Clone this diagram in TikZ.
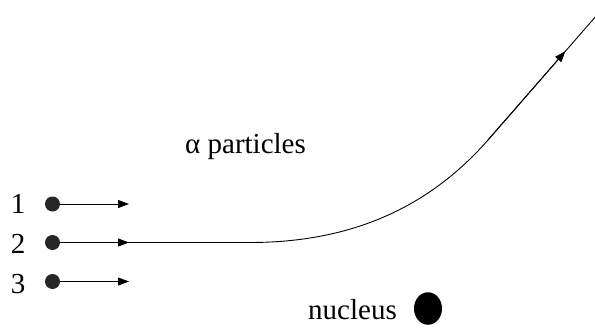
\documentclass[tikz,border=0pt]{standalone}
\usepackage{fontspec}
\setmainfont{Liberation Serif}
\usetikzlibrary{arrows.meta,calc,shapes.geometric}
\begin{document}
\begin{tikzpicture}[x=1pt,y=-1pt,
  lbl/.style={font=\fontsize{29}{34}\selectfont, inner sep=0pt, anchor=base},
  smalldot/.style={circle, fill=black!85, minimum size=15pt, inner sep=0pt},
  arr/.style={line width=0.9pt, -{Triangle[length=11pt,width=8pt]}},
  traj/.style={line width=0.9pt}]
\useasboundingbox (0,0) rectangle (595,327);
% labels
\node[lbl] (n1) at (18,213) {1};
\node[lbl] (n2) at (18,253) {2};
\node[lbl] (n3) at (18,293) {3};
\node[lbl, anchor=base west] (alpha) at (185,153) {α particles};
\node[lbl, anchor=base west] (nuclbl) at (308,319) {nucleus};
% dots
\node[smalldot] (d1) at (52.5,204) {};
\node[smalldot] (d2) at (52.5,242.5) {};
\node[smalldot] (d3) at (52.5,281.5) {};
\node[ellipse, fill=black, minimum width=28pt, minimum height=32.5pt, inner sep=0pt] (nuc) at (428,308.5) {};
% arrow tips
\coordinate (a1) at (129,204);
\coordinate (a2) at (129,242.5);
\coordinate (a3) at (129,281.5);
\draw[arr] (d1) -- (a1);
\draw[arr] (d3) -- (a3);
% trajectory
\coordinate (flat) at (250,242.5);
\coordinate (bend) at (488,140);
\coordinate (tend) at (597,15);
\draw[traj] (d2) -- (flat) .. controls (350,242.5) and (428,208.4) .. (bend) -- (tend);
\draw[arr] (d2) -- (a2);
\coordinate (tip) at ($(bend)!0.71!(tend)$);
\draw[arr] (bend) -- (tip);
\end{tikzpicture}
\end{document}
